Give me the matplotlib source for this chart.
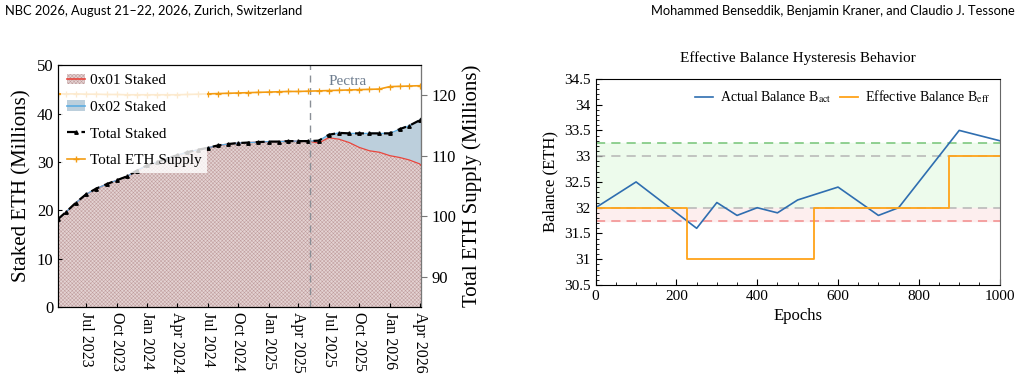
import matplotlib
matplotlib.use("Agg")
import matplotlib.pyplot as plt
import matplotlib.dates as mdates
from matplotlib.lines import Line2D
from matplotlib.patches import Patch
from matplotlib.ticker import MultipleLocator, FormatStrFormatter
import pandas as pd

plt.rcParams["font.family"] = ["Liberation Serif", "DejaVu Serif"]
plt.rcParams["mathtext.fontset"] = "stix"
plt.rcParams["hatch.linewidth"] = 0.35

# --- left panel data (millions of ETH) ---
dates = pd.to_datetime([
    "2023-04-08", "2023-05-01", "2023-06-01", "2023-07-01", "2023-08-01", "2023-09-01",
    "2023-10-01", "2023-11-01", "2023-12-01", "2024-01-01", "2024-02-01", "2024-03-01",
    "2024-04-01", "2024-05-01", "2024-06-01", "2024-07-01", "2024-08-01", "2024-09-01",
    "2024-10-01", "2024-11-01", "2024-12-01", "2025-01-01", "2025-02-01", "2025-03-01",
    "2025-04-01", "2025-05-01", "2025-06-01", "2025-07-01", "2025-08-01", "2025-09-01",
    "2025-10-01", "2025-11-01", "2025-12-01", "2026-01-01", "2026-02-01", "2026-03-01",
    "2026-04-01", "2026-04-06",
])
total_staked = [
    18.2, 19.6, 21.6, 23.3, 24.5, 25.4,
    26.2, 27.0, 28.2, 29.3, 30.0, 30.7,
    31.4, 32.0, 32.5, 32.9, 33.4, 33.7,
    33.9, 34.0, 34.1, 34.2, 34.2, 34.3,
    34.3, 34.3, 34.4, 35.6, 36.0, 35.9,
    35.9, 35.9, 35.9, 35.9, 36.8, 37.5,
    38.6, 38.9,
]
staked_0x01 = [
    18.2, 19.6, 21.6, 23.3, 24.5, 25.4,
    26.2, 27.0, 28.2, 29.3, 30.0, 30.7,
    31.4, 32.0, 32.5, 32.9, 33.4, 33.7,
    33.9, 34.0, 34.1, 34.2, 34.2, 34.3,
    34.3, 34.3, 33.9, 35.0, 34.7, 34.0,
    33.0, 32.3, 32.0, 31.3, 30.9, 30.4,
    29.6, 29.2,
]
eth_supply = [
    120.25, 120.25, 120.25, 120.2, 120.2, 120.15,
    120.15, 120.1, 120.1, 120.1, 120.1, 120.1,
    120.1, 120.15, 120.2, 120.25, 120.3, 120.35,
    120.4, 120.45, 120.5, 120.55, 120.6, 120.65,
    120.65, 120.7, 120.75, 120.8, 120.85, 120.9,
    120.95, 121.0, 121.05, 121.45, 121.5, 121.55,
    121.6, 121.6,
]
pectra_date = pd.Timestamp("2025-05-07")

# --- right panel data ---
epochs = [0, 100, 200, 250, 300, 350, 400, 450, 500, 600, 700, 750, 900, 1000]
actual_balance = [32.0, 32.5, 31.9, 31.6, 32.1, 31.85, 32.0, 31.9, 32.15, 32.4, 31.85, 32.0, 33.5, 33.3]
eff_epochs = [0, 225, 540, 875, 1000]
eff_balance = [32.0, 31.0, 32.0, 33.0, 33.0]
upper_threshold = 33.25
lower_threshold = 31.75
ref_levels = [33.0, 32.0]

fig = plt.figure(figsize=(10.2, 3.81), dpi=100)

hdr = dict(family=["Lato", "DejaVu Sans"], fontsize=9.3, va="center")
fig.text(0.005, 0.972, "NBC 2026, August 21\u201322, 2026, Zurich, Switzerland", ha="left", **hdr)
fig.text(0.995, 0.972, "Mohammed Benseddik, Benjamin Kraner, and Claudio J. Tessone", ha="right", **hdr)

# ---------------- left panel ----------------
hatch_face, hatch_ink = "#e4d3d3", "#bf9c9c"
ax = fig.add_axes([0.057, 0.194, 0.356, 0.635])
ax.fill_between(dates, 0, staked_0x01, facecolor=hatch_face, edgecolor=hatch_ink,
                hatch="xxxxxxxxx", linewidth=0)
ax.plot(dates, staked_0x01, color="#e8453c", lw=0.9)
ax.fill_between(dates, staked_0x01, total_staked, facecolor="#bccfdc", linewidth=0)
ax.plot(dates, total_staked, color="#5dade2", lw=0.9)
ax.plot(dates, total_staked, color="black", ls=(0, (4, 2.5)), lw=1.6,
        marker="^", ms=2.5)
ax.axvline(pectra_date, color="#8a8f96", ls=(0, (5, 4)), lw=1)
ax.text(pectra_date + pd.Timedelta(days=55), 46.7, "Pectra", color="#6e7d8f",
        fontsize=11, va="center")

ax.set_xlim(dates[0], dates[-1])
ax.set_ylim(0, 50)
ax.set_ylabel("Staked ETH (Millions)", fontsize=15)
ax.xaxis.set_major_locator(mdates.MonthLocator(bymonth=[1, 4, 7, 10]))
ax.xaxis.set_major_formatter(mdates.DateFormatter("%b %Y"))
ax.tick_params(axis="x", direction="in", labelsize=11.5, labelrotation=-90, length=3)
ax.tick_params(axis="y", direction="in", labelsize=12, length=3)

ax2 = ax.twinx()
ax2.plot(dates, eth_supply, color="#f39c12", lw=1.2, marker="+", ms=4, mew=0.9)
ax2.set_ylim(85, 125)
ax2.set_yticks([90, 100, 110, 120])
ax2.set_ylabel("Total ETH Supply (Millions)", fontsize=15)
ax2.tick_params(axis="y", labelsize=12, colors="#777777", labelcolor="black", length=4)
ax2.spines["right"].set_color("#777777")

handles = [
    Patch(facecolor=hatch_face, edgecolor=hatch_ink, hatch="xxxxxxxxx", linewidth=0),
    Patch(facecolor="#bccfdc", edgecolor="none"),
    Line2D([], [], color="black", ls=(0, (4, 2.5)), lw=1.6, marker="^", ms=2.5),
    Line2D([], [], color="#f39c12", lw=1.2, marker="+", ms=4),
]
tops = [
    Line2D([], [], color="#e8453c", lw=1.2),
    Line2D([], [], color="#5dade2", lw=1.2),
]
labels = ["0x01 Staked", "0x02 Staked", "Total Staked", "Total ETH Supply"]
leg = ax2.legend([(handles[0], tops[0]), (handles[1], tops[1]), handles[2], handles[3]],
                 labels, loc="upper left", fontsize=11, labelspacing=0.85,
                 handlelength=1.2, handletextpad=0.35, borderaxespad=0.2, borderpad=0.35,
                 frameon=True, framealpha=0.8, edgecolor="none", fancybox=False)

# ---------------- right panel ----------------
bx = fig.add_axes([0.584, 0.252, 0.396, 0.541])
bx.axhspan(ref_levels[1], upper_threshold, color="#edfbec", zorder=0)
bx.axhspan(lower_threshold, ref_levels[1], color="#fdeeee", zorder=0)
bx.axhline(upper_threshold, color="#74c476", ls=(0, (6, 4)), lw=1.1)
for lvl in ref_levels:
    bx.axhline(lvl, color="#b5b5b5", ls=(0, (6, 4)), lw=1.1)
bx.axhline(lower_threshold, color="#f28b8b", ls=(0, (6, 4)), lw=1.1)
bx.plot(epochs, actual_balance, color="#2f6eb0", lw=1.2,
        label=r"Actual Balance B$_{\mathrm{act}}$")
bx.step(eff_epochs, eff_balance, where="post", color="#ffa319", lw=1.3,
        label=r"Effective Balance B$_{\mathrm{eff}}$")

bx.set_xlim(0, 1000)
bx.set_ylim(30.5, 34.5)
bx.xaxis.set_major_locator(MultipleLocator(200))
bx.xaxis.set_minor_locator(MultipleLocator(50))
bx.yaxis.set_major_locator(MultipleLocator(0.5))
bx.yaxis.set_minor_locator(MultipleLocator(0.1))
bx.yaxis.set_major_formatter(FormatStrFormatter("%g"))
bx.tick_params(which="both", direction="in", labelsize=11)
bx.tick_params(which="major", length=4)
bx.tick_params(which="minor", length=2)
bx.set_xlabel("Epochs", fontsize=12)
bx.set_ylabel("Balance (ETH)", fontsize=12)
bx.set_title("Effective Balance Hysteresis Behavior", fontsize=11, pad=12)
bx.spines["right"].set_color("#666666")
bx.legend(loc="upper right", ncol=2, frameon=False, fontsize=10,
          handlelength=1.3, handletextpad=0.5, columnspacing=0.6, borderaxespad=0.3)

fig.savefig("out.png", dpi=100)
